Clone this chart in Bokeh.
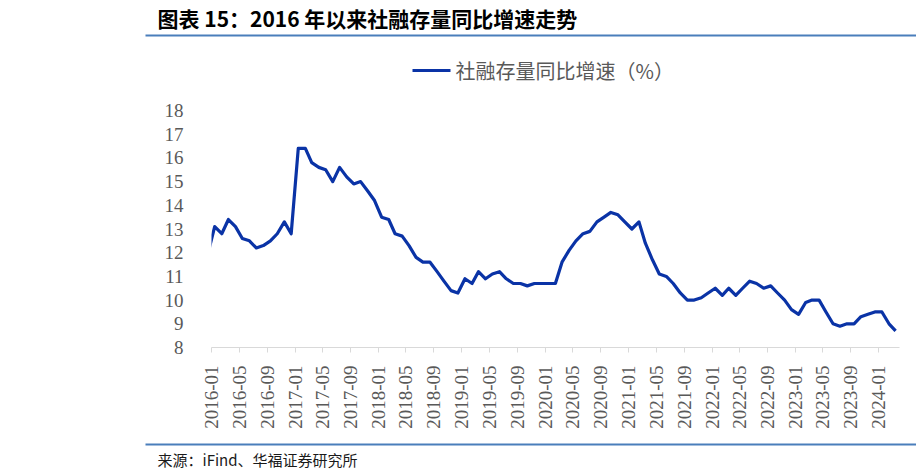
from math import pi

import pandas as pd
from bokeh.core.properties import value
from bokeh.embed import file_html
from bokeh.layouts import column
from bokeh.models import ColumnDataSource, DatetimeTickFormatter, FixedTicker, Range1d
from bokeh.plotting import figure
from bokeh.resources import INLINE

# monthly data, 2015-12 .. 2024-03 (first point only feeds the clipped start of the line)
months = pd.date_range("2015-12-01", "2024-03-01", freq="MS")
growth = [
    11.9,
    13.1, 12.8, 13.4, 13.1, 12.6, 12.5, 12.2, 12.3, 12.5, 12.8, 13.3, 12.8,  # 2016
    16.4, 16.4, 15.8, 15.6, 15.5, 15.0, 15.6, 15.2, 14.9, 15.0, 14.6, 14.2,  # 2017
    13.5, 13.4, 12.8, 12.7, 12.3, 11.8, 11.6, 11.6, 11.2, 10.8, 10.4, 10.3,  # 2018
    10.9, 10.7, 11.2, 10.9, 11.1, 11.2, 10.9, 10.7, 10.7, 10.6, 10.7, 10.7,  # 2019
    10.7, 10.7, 11.6, 12.1, 12.5, 12.8, 12.9, 13.3, 13.5, 13.7, 13.6, 13.3,  # 2020
    13.0, 13.3, 12.4, 11.7, 11.1, 11.0, 10.7, 10.3, 10.0, 10.0, 10.1, 10.3,  # 2021
    10.5, 10.2, 10.5, 10.2, 10.5, 10.8, 10.7, 10.5, 10.6, 10.3, 10.0, 9.6,   # 2022
    9.4, 9.9, 10.0, 10.0, 9.5, 9.0, 8.9, 9.0, 9.0, 9.3, 9.4, 9.5,            # 2023
    9.5, 9.0, 8.7,                                                           # 2024
]
x_ticks = pd.date_range("2016-01-01", "2024-01-01", freq="4MS")
y_ticks = [8, 9, 10, 11, 12, 13, 14, 15, 16, 17, 18]

title = "图表 15：2016 年以来社融存量同比增速走势"
series_name = "社融存量同比增速（%）"
source_note = "来源：iFind、华福证券研究所"

BLUE = "#0a33a6"
RULE = "#4a7ebb"
GREY = "#595959"
W = 916


def blank(height):
    f = figure(width=W, height=height, x_range=Range1d(0, W), y_range=Range1d(height, 0),
               x_axis_type=None, y_axis_type=None, toolbar_location=None, tools="",
               output_backend="svg", min_border=0)
    f.outline_line_color = None
    f.grid.visible = False
    f.frame_align = False
    return f


# header: title, rule, legend
head = blank(90)
head.text(x=[157], y=[17], text=[title], text_font=value("Noto Sans CJK SC"),
          text_font_style="bold", text_font_size="21px", text_color="black",
          text_baseline="middle")
head.line(x=[145, W], y=[35, 35], line_color=RULE, line_width=2)
head.line(x=[412, 450], y=[70, 70], line_color=BLUE, line_width=3)
head.text(x=[455], y=[70], text=[series_name], text_font=value("Noto Sans CJK SC"),
          text_font_size="20px", text_color=GREY, text_baseline="middle")

# main chart
dates = [m + pd.Timedelta(days=14) for m in months]
src = ColumnDataSource(dict(date=dates, growth=growth))

p = figure(width=W, height=348, x_axis_type="datetime",
           x_range=Range1d(pd.Timestamp("2016-01-01"), pd.Timestamp("2024-04-01")),
           y_range=Range1d(8, 18), toolbar_location=None, tools="",
           output_backend="svg")
p.frame_align = False
p.min_border_left = 211
p.min_border_right = 17
p.min_border_top = 20
p.min_border_bottom = 91
p.outline_line_color = None
p.grid.visible = False

p.line(x="date", y="growth", source=src, line_color=BLUE, line_width=3.2,
       line_join="round")

p.xaxis.ticker = FixedTicker(ticks=[t.value // 10**6 for t in x_ticks])
p.xaxis.formatter = DatetimeTickFormatter(days="%Y-%m", months="%Y-%m", years="%Y-%m")
p.xaxis.major_label_orientation = pi / 2
p.xaxis.axis_line_color = "#d9d9d9"
p.xaxis.major_tick_line_color = "#d9d9d9"
p.xaxis.major_tick_out = 5
p.xaxis.major_tick_in = 0
p.xaxis.minor_tick_line_color = None
p.xaxis.major_label_standoff = 13

p.yaxis.ticker = FixedTicker(ticks=y_ticks)
p.yaxis.axis_line_color = None
p.yaxis.major_tick_line_color = None
p.yaxis.minor_tick_line_color = None
p.yaxis.major_label_standoff = 22

for ax in (p.xaxis, p.yaxis):
    ax.major_label_text_font = "Liberation Serif"
    ax.major_label_text_font_size = "19px"
    ax.major_label_text_color = GREY

# footer: rule and source
foot = blank(33)
foot.line(x=[145, W], y=[6, 6], line_color=RULE, line_width=2)
foot.text(x=[157], y=[21], text=[source_note], text_font=value("Noto Sans CJK SC"),
          text_font_size="15px", text_color="#1a1a1a", text_baseline="middle")

page = column(head, p, foot, spacing=0)
open("out.html", "w").write(file_html(page, INLINE))
